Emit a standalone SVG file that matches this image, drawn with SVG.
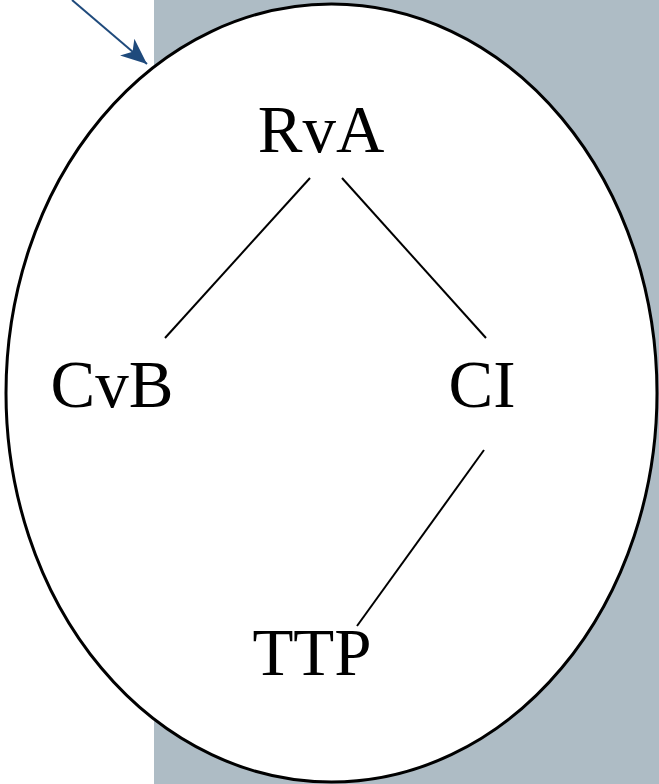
<svg xmlns="http://www.w3.org/2000/svg" width="659" height="784" viewBox="0 0 659 784">
  <style>
    .label { font-family: "Liberation Serif", "Times New Roman", serif; font-size: 67px; fill: #000; text-anchor: middle; }
    .edge { stroke: #000; stroke-width: 2; fill: none; }
  </style>
  <defs>
    <marker id="arrowHead" markerUnits="userSpaceOnUse" markerWidth="30" markerHeight="30" refX="26" refY="11" orient="auto" viewBox="0 0 30 22">
      <path d="M0,0 L26,11 L0,22 L7,11 Z" fill="#1f4a7c"/>
    </marker>
  </defs>
  <rect width="659" height="784" fill="#ffffff"/>
  <rect x="154" y="0" width="505" height="784" fill="#aebcc5"/>
  <g id="boundary">
    <ellipse cx="331.5" cy="393" rx="325.5" ry="389" fill="#ffffff" stroke="#000" stroke-width="3"/>
  </g>
  <g id="connectors">
    <line class="edge" x1="310" y1="178" x2="165" y2="338"/>
    <line class="edge" x1="342" y1="178" x2="486" y2="338"/>
    <line class="edge" x1="484" y1="450" x2="357" y2="626"/>
    <line x1="72" y1="0" x2="147" y2="64" stroke="#1f4a7c" stroke-width="2" marker-end="url(#arrowHead)"/>
  </g>
  <g id="RvA"><text class="label" x="321" y="152">RvA</text></g>
  <g id="CvB"><text class="label" x="112" y="407">CvB</text></g>
  <g id="CI"><text class="label" x="482" y="407">CI</text></g>
  <g id="TTP"><text class="label" x="312" y="675">TTP</text></g>
</svg>
